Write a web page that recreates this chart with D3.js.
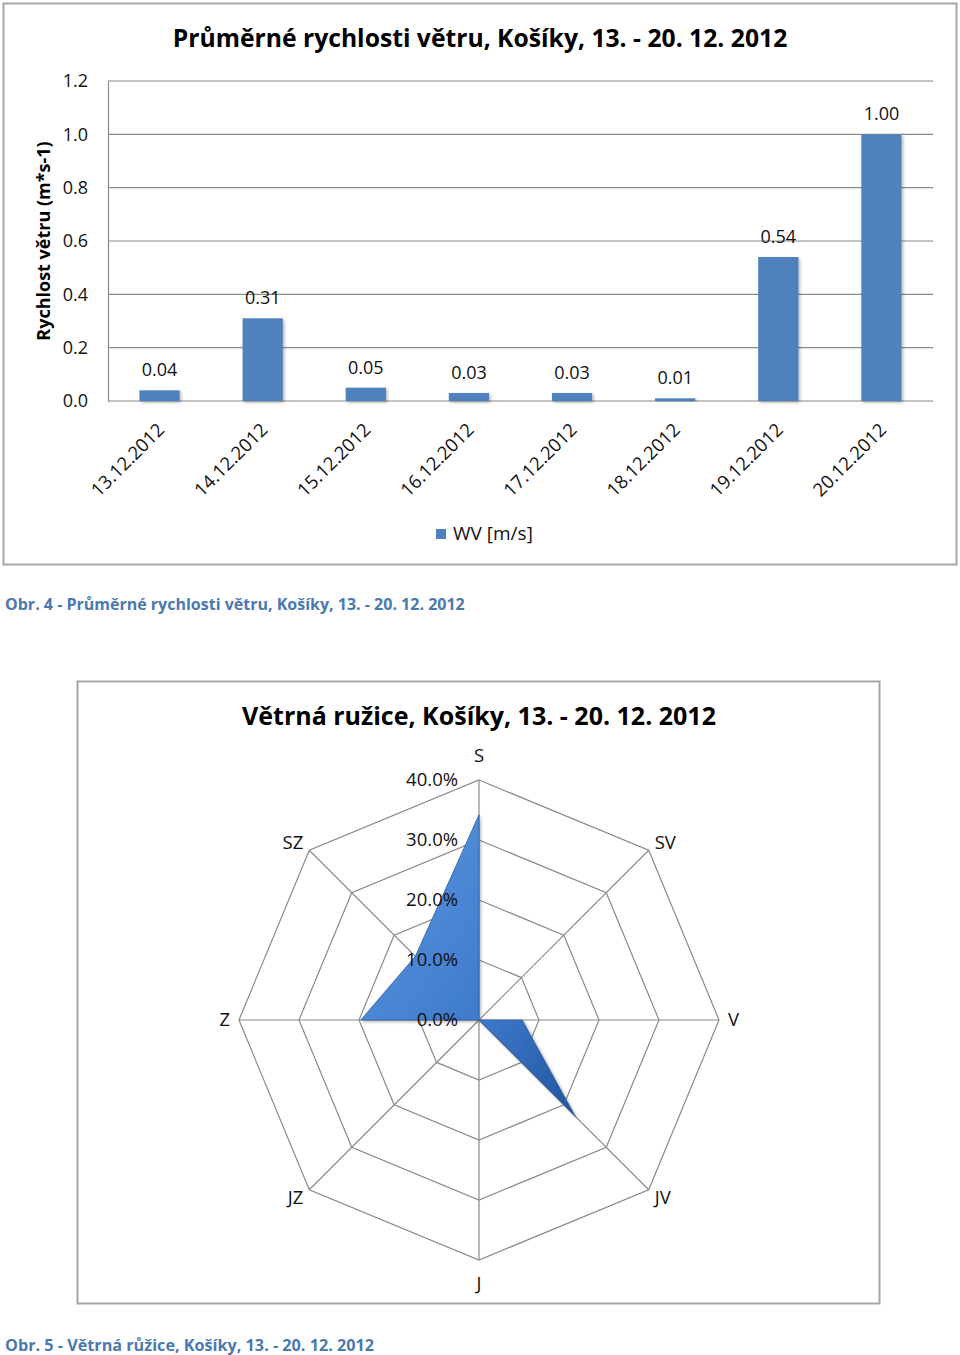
<!DOCTYPE html>
<html>
<head>
<meta charset="utf-8">
<script src="https://cdn.jsdelivr.net/npm/d3@7"></script>
<style>
  html, body { margin: 0; padding: 0; background: #fff; }
  svg { display: block; font-family: "Open Sans", sans-serif; }
</style>
</head>
<body>
<svg id="chart" width="960" height="1355"></svg>
<script>
// ---------- data ----------
const barTitle = "Průměrné rychlosti větru, Košíky, 13. - 20. 12. 2012";
const barYAxisTitle = "Rychlost větru (m*s-1)";
const dates = ["13.12.2012","14.12.2012","15.12.2012","16.12.2012","17.12.2012","18.12.2012","19.12.2012","20.12.2012"];
const windSpeed = [0.04, 0.31, 0.05, 0.03, 0.03, 0.01, 0.54, 1.00];
const yTicks = [0.0, 0.2, 0.4, 0.6, 0.8, 1.0, 1.2];
const seriesName = "WV [m/s]";
const caption1 = "Obr. 4 - Průměrné rychlosti větru, Košíky, 13. - 20. 12. 2012";

const roseTitle = "Větrná ružice, Košíky, 13. - 20. 12. 2012";
const directions = ["S","SV","V","JV","J","JZ","Z","SZ"];
const roseValues = [34.2, 0, 7.2, 22.7, 0, 0, 19.7, 15.0];
const roseTicks = [0, 10, 20, 30, 40];
const caption2 = "Obr. 5 - Větrná růžice, Košíky, 13. - 20. 12. 2012";

// ---------- setup ----------
const svg = d3.select("#chart");
const blue = "#4f81bd";
const gridColor = "#8a8a8a";
const capColor = "#4a78b0";

const defs = svg.append("defs");
const sh = defs.append("filter").attr("id","shadow").attr("x","-20%").attr("y","-20%").attr("width","150%").attr("height","150%");
sh.append("feDropShadow").attr("dx",1.5).attr("dy",1.5).attr("stdDeviation",1.5).attr("flood-color","#000").attr("flood-opacity",0.3);
const lg = defs.append("linearGradient").attr("id","roseFill").attr("x1","0").attr("y1","0").attr("x2","1").attr("y2","1");
lg.append("stop").attr("offset","0%").attr("stop-color","#5d97de");
lg.append("stop").attr("offset","60%").attr("stop-color","#3f7bcc");
lg.append("stop").attr("offset","100%").attr("stop-color","#22549e");

// ---------- bar chart ----------
svg.append("rect").attr("x",3.5).attr("y",3.5).attr("width",953).attr("height",561)
  .attr("fill","#fff").attr("stroke","#a6a6a6").attr("stroke-width",2);

svg.append("text").attr("x",480).attr("y",47).attr("text-anchor","middle")
  .attr("font-size",24.7).attr("font-weight","bold").text(barTitle);

const x = d3.scaleBand().domain(dates).range([108, 933]).paddingInner(0.61).paddingOuter(0.305);
const y = d3.scaleLinear().domain([0, 1.2]).range([401, 81]);

const gGrid = svg.append("g");
gGrid.selectAll("line").data(yTicks).join("line")
  .attr("x1",108).attr("x2",933)
  .attr("y1",d=>y(d)).attr("y2",d=>y(d))
  .attr("stroke",gridColor).attr("stroke-width",1.2);

const yAxis = svg.append("g").attr("transform","translate(108,0)")
  .call(d3.axisLeft(y).tickValues(yTicks).tickFormat(d3.format(".1f")).tickSize(0).tickPadding(20));
yAxis.select(".domain").attr("stroke",gridColor).attr("stroke-width",1.2);
yAxis.selectAll("text").attr("font-size",18).attr("font-family","Open Sans").attr("fill","#111");

svg.append("text")
  .attr("transform","translate(50,241) rotate(-90)")
  .attr("text-anchor","middle").attr("font-size",18).attr("font-weight","bold")
  .text(barYAxisTitle);

svg.append("g").selectAll("rect").data(windSpeed).join("rect")
  .attr("x",(d,i)=>x(dates[i])).attr("width",x.bandwidth())
  .attr("y",d=>y(d)).attr("height",d=>y(0)-y(d))
  .attr("fill",blue).attr("filter","url(#shadow)");

svg.append("g").selectAll("text").data(windSpeed).join("text")
  .attr("x",(d,i)=>x(dates[i])+x.bandwidth()/2)
  .attr("y",d=>y(d)-14)
  .attr("text-anchor","middle").attr("font-size",18).attr("fill","#111")
  .text(d=>d3.format(".2f")(d));

svg.append("g").selectAll("text").data(dates).join("text")
  .attr("transform",d=>`translate(${x(d)+x.bandwidth()/2+6},431) rotate(-45)`)
  .attr("text-anchor","end").attr("font-size",18.5).attr("fill","#111")
  .text(d=>d);

svg.append("rect").attr("x",436).attr("y",529).attr("width",10).attr("height",10).attr("fill",blue);
svg.append("text").attr("x",453).attr("y",540).attr("font-size",19).attr("fill","#111").text(seriesName);

svg.append("text").attr("x",5).attr("y",610).attr("font-size",16).attr("font-weight","bold")
  .attr("fill",capColor).text(caption1);

// ---------- wind rose (radar) ----------
svg.append("rect").attr("x",77.5).attr("y",681.5).attr("width",802).attr("height",622)
  .attr("fill","#fff").attr("stroke","#a6a6a6").attr("stroke-width",2);

svg.append("text").attr("x",479).attr("y",725).attr("text-anchor","middle")
  .attr("font-size",25).attr("font-weight","bold").text(roseTitle);

const cx = 479, cy = 1020;
const r = d3.scaleLinear().domain([0, 40]).range([0, 240]);
const angle = d3.scalePoint().domain(directions).range([0, 2*Math.PI * 7/8]);
const pt = (dir, v) => [cx + r(v)*Math.sin(angle(dir)), cy - r(v)*Math.cos(angle(dir))];

const gRose = svg.append("g");
gRose.selectAll("polygon.ring").data(roseTicks.filter(t=>t>0)).join("polygon")
  .attr("class","ring")
  .attr("points",t=>directions.map(d=>pt(d,t).join(",")).join(" "))
  .attr("fill","none").attr("stroke",gridColor).attr("stroke-width",1.2);
gRose.selectAll("line.spoke").data(directions).join("line")
  .attr("class","spoke")
  .attr("x1",cx).attr("y1",cy)
  .attr("x2",d=>pt(d,40)[0]).attr("y2",d=>pt(d,40)[1])
  .attr("stroke",gridColor).attr("stroke-width",1.2);

const line = d3.lineRadial().angle((d,i)=>angle(directions[i])).radius(d=>r(d)).curve(d3.curveLinearClosed);
svg.append("path").attr("transform",`translate(${cx},${cy})`)
  .attr("d", line(roseValues))
  .attr("fill","url(#roseFill)").attr("stroke","#2d5fa3").attr("stroke-width",0.8)
  .attr("filter","url(#shadow)");

svg.append("g").selectAll("text").data(roseTicks).join("text")
  .attr("x",458).attr("y",t=>cy - r(t))
  .attr("dy","0.35em").attr("text-anchor","end").attr("font-size",18.5).attr("fill","#111")
  .text(t=>d3.format(".1f")(t)+"%");

svg.append("g").selectAll("text").data(directions).join("text")
  .attr("x",d=>{ const s=Math.sin(angle(d)); const p=pt(d,40); return p[0] + (Math.abs(s)<0.1?0:(Math.abs(s)>0.9?9:6)*Math.sign(s)); })
  .attr("y",d=>{ const c=Math.cos(angle(d)); const p=pt(d,40); return p[1] - (Math.abs(c)>0.9?24:(Math.abs(c)<0.1?0:8))*Math.sign(c); })
  .attr("dy","0.35em")
  .attr("text-anchor",d=>{ const s=Math.sin(angle(d)); return Math.abs(s)<0.1?"middle":(s>0?"start":"end"); })
  .attr("font-size",18.5).attr("fill","#111")
  .text(d=>d);

svg.append("text").attr("x",5).attr("y",1351).attr("font-size",16.2).attr("font-weight","bold")
  .attr("fill",capColor).text(caption2);
</script>
</body>
</html>
